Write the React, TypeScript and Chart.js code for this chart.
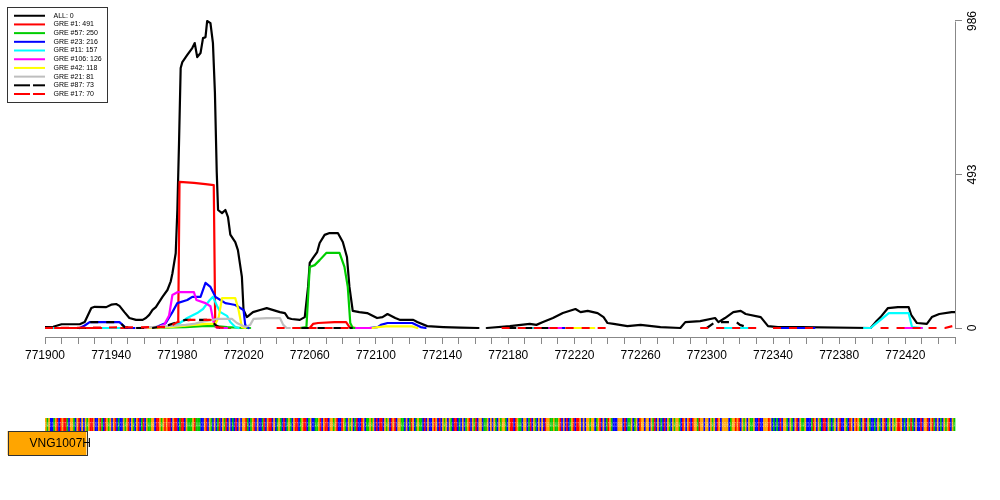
import { useEffect, useRef } from 'react';
import { Chart, registerables } from 'chart.js';

Chart.register(...registerables);

const FONT = '"Liberation Sans", Arial, Helvetica, sans-serif';

// ---- series meta ----
const seriesNames = ['ALL', 'GRE #1', 'GRE #57', 'GRE #23', 'GRE #11', 'GRE #106', 'GRE #42', 'GRE #21', 'GRE #87', 'GRE #17'];
const seriesCounts = [0, 491, 250, 216, 157, 126, 118, 81, 73, 70];
const seriesColors = ['#000000', '#FF0000', '#00CD00', '#0000FF', '#00FFFF', '#FF00FF', '#FFFF00', '#BEBEBE', '#000000', '#FF0000'];
const seriesDashed = [false, false, false, false, false, false, false, false, true, true];

type Pt = [number, number | null];

// ---- series values: [genomic position, reads] ----
const profileAll: Pt[] = [
  [771900, 3], [771905, 4], [771910, 12], [771921, 12], [771924, 19], [771928, 64], [771930, 68], [771937, 67],
  [771940, 75], [771943, 77], [771945, 71], [771948, 51], [771951, 32], [771955, 26], [771959, 26], [771961, 32],
  [771963, 42], [771965, 58], [771967, 67], [771971, 100], [771974, 122], [771976, 150], [771977, 175], [771979, 240],
  [771980, 380], [771981, 594], [771982, 835], [771983, 854], [771986, 877], [771989, 899], [771990.5, 915], [771992, 870],
  [771994, 883], [771995.5, 931], [771997, 934], [771998, 986], [772000, 979], [772001.5, 915], [772002.7, 755], [772003.8, 500],
  [772004.6, 379], [772007, 369], [772009, 379], [772010.6, 356], [772012, 300], [772015, 276], [772016.6, 250], [772019, 164],
  [772020, 58], [772022, 35], [772025.7, 51], [772030, 58], [772034, 64], [772042, 51], [772045, 48], [772047, 32],
  [772049, 29], [772054, 26], [772057, 35], [772059, 132], [772060, 209], [772062, 225], [772064.5, 244], [772066, 273],
  [772069, 299], [772072, 305], [772077, 305], [772080, 276], [772082.5, 228], [772084, 132], [772086, 55], [772090, 51],
  [772094.7, 48], [772100.7, 32], [772104, 35], [772107, 45], [772111.7, 32], [772114.7, 26], [772122.6, 26], [772125, 19],
  [772131, 6], [772140.7, 3], [772151, 1], [772162, 0], [772164, null], [772167, 0], [772181, 6], [772193, 13],
  [772197, 10], [772201, 19], [772207, 32], [772213, 48], [772220.6, 61], [772223.7, 51], [772228, 55], [772234, 48],
  [772237.6, 35], [772240, 16], [772243.7, 13], [772252, 6], [772260, 10], [772272, 3], [772284, 0], [772287, 19],
  [772296, 22], [772305, 32], [772307, 19], [772311, 32], [772316, 51], [772320.5, 55], [772323.5, 45], [772332.6, 35],
  [772337, 6], [772343, 3], [772357, 3], [772399, 0], [772402, 19], [772405, 35], [772409.5, 64], [772415.5, 67],
  [772422, 67], [772423.5, 42], [772427, 16], [772433, 13], [772436, 35], [772440.5, 45], [772448, 51], [772450, 51],
];

const profileGre1: Pt[] = [
  [771900, 0], [771960, 0], [771975, 3], [771980.5, 8], [771981.3, 469], [771990, 466], [771997, 462], [772002, 459],
  [772002.9, 5], [772008, 0], [772012, 0], [772013, null], [772050, 0], [772060, 0], [772062, 13], [772065, 16],
  [772075, 19], [772082, 19], [772084, 3], [772088, 0], [772092, 0], [772093, null],
];

const profileGre57: Pt[] = [
  [771900, 0], [771903, 0], [771904, null], [771960, 0], [771985, 3], [771995, 6], [772003, 6], [772010, 3],
  [772020, 0], [772024, 0], [772025, null], [772054, 0], [772058, 3], [772060, 196], [772063, 202], [772066, 218],
  [772070, 241], [772078, 241], [772081, 196], [772083, 132], [772084.5, 16], [772086, 0], [772090, 0], [772091, null],
];

const profileGre23: Pt[] = [
  [771921, 0], [771924, 8], [771927, 19], [771945, 19], [771949, 0], [771966, 0], [771973, 16], [771977, 51],
  [771980, 80], [771986, 90], [771989, 100], [771994, 100], [771997, 145], [772000, 132], [772003, 100], [772006, 90],
  [772009, 80], [772012, 77], [772015, 74], [772020, 58], [772021, 10], [772023, 0], [772024, null], [772096, 0],
  [772101, 3], [772103, 10], [772107, 16], [772122, 16], [772127, 3], [772130, 0], [772131, null], [772192, 0],
  [772222, 0], [772223, null], [772345, 0], [772365, 0], [772366, null],
];

const profileGre11: Pt[] = [
  [771900, 0], [771905, 0], [771906, null], [771935, 0], [771945, 0], [771946, null], [771970, 0], [771978, 6],
  [771981.5, 16], [771986, 32], [771992, 48], [771995.5, 61], [771999.6, 90], [772001.5, 100], [772004, 71], [772006, 51],
  [772010, 39], [772012, 19], [772015, 3], [772017, 0], [772018, null], [772190, 0], [772205, 0], [772206, null],
  [772308, 0], [772326, 0], [772327, null], [772395, 0], [772399, 0], [772402, 13], [772405, 26], [772410, 48],
  [772422, 48], [772424, 3], [772430, 0], [772431, null],
];

const profileGre106: Pt[] = [
  [771955, 0], [771966, 0], [771972, 10], [771975, 40], [771977, 106], [771980, 115], [771990, 115], [771991.5, 90],
  [771997, 80], [772000, 70], [772002, 16], [772004, 0], [772010, 0], [772011, null], [772088, 0], [772098, 0],
  [772099, null], [772200, 0], [772212, 0], [772213, null], [772418, 0], [772430, 0], [772431, null],
];

const profileGre42: Pt[] = [
  [771962, 0], [771975, 3], [771990, 10], [771998, 13], [772003, 13], [772005, 35], [772007, 96], [772015, 96],
  [772017, 58], [772019, 3], [772021, 0], [772022, null], [772098, 0], [772101, 3], [772106, 5], [772122, 5],
  [772125, 0], [772126, null], [772215, 0], [772232, 0], [772233, null],
];

const profileGre21: Pt[] = [
  [771955, 0], [771965, 3], [771975, 6], [771985, 10], [771990, 13], [771994, 19], [772004, 29], [772013, 29],
  [772016, 16], [772021, 3], [772024, 10], [772026, 29], [772034, 32], [772042, 32], [772044, 10], [772046, 0],
  [772048, 0], [772049, null],
];

const profileGre87: Pt[] = [
  [771900, 0], [771924, 0], [771927, 19], [771945, 19], [771948, 3], [771955, 0], [771965, 0], [771975, 10],
  [771980, 19], [771985, 26], [772000, 26], [772003, 10], [772006, 0], [772010, 0], [772011, null], [772055, 0],
  [772086, 0], [772087, null], [772180, 0], [772205, 0], [772206, null], [772300, 0], [772305, 19], [772318, 19],
  [772320, 10], [772326, 0], [772327, null],
];

const profileGre17: Pt[] = [
  [771900, 0], [771975, 3], [771980, 19], [771988, 26], [772000, 26], [772003, 3], [772010, 0], [772011, null],
  [772040, 0], [772060, 0], [772085, 0], [772086, null], [772176, 0], [772240, 0], [772241, null], [772296, 0],
  [772330, 0], [772331, null], [772340, 0], [772366, 0], [772367, null], [772405, 0], [772444, 0], [772450, 8],
];

const seriesData: Pt[][] = [
  profileAll, profileGre1, profileGre57, profileGre23, profileGre11,
  profileGre106, profileGre42, profileGre21, profileGre87, profileGre17,
];

// ---- axes ----
const xMin = 771900;
const xMax = 772450;
const xTickStep = 10;
const xLabelValues = [771900, 771940, 771980, 772020, 772060, 772100, 772140, 772180, 772220, 772260, 772300, 772340, 772380, 772420];
const yTickValues = [0, 493, 986];
const yMin = -28.9;
const yMax = 1021.3;

// ---- sequence / gene track ----
const seqStart = 771900;
const seqEnd = 772450;
const sequence =
  'GAGCCAGTCTGTTACGGACGTCGCGAGTTGCCGTACTGAGCGTCACCGAG' +
  'TCGACGTCATCGAAGGCTTGAGTGTTCGTTCATTCGAAAGTAAACCGTCG' +
  'ACGCATCGATCGCACTCGCGGTACAGTCGCCATCGTTCGCAGACTCAGAC' +
  'GTTCAGTTCAGCCAAGTCGTTCGGAGTCCTGACGAGCATCCTGCAAGAGC' +
  'TCTTCGAGCTGTCGGAACGCATGCAGAACTCGCCGTGCTCGAGCGACTTC' +
  'ACGCAGTCGATCGGCAAGCGCGACGAGGACGTTCTGAACGGCATCGACGC' +
  'GCTGGAAGAAGTCGCTCAGTCTTGCGCGGAGGCAGTCGCATGACCCGGGC' +
  'TCAAGCAGCTGGCGGCGATCGCACTCGACGAGGACTGCGTCTGGATGGCG' +
  'GCGAGCTGCGGGGCAGGTGTCGAGCGAAGCCTCCGGGTGCACACTCGGAC' +
  'GACGTCGAAGCCCATGCGACTTCGACAGCGTCCGACTGCGTGACGTCGAC' +
  'CACGACGTCAGCGAGTTGCACGATACGCCTCGGTCGTACGCACGAGTCGA';
const baseColors: Record<string, string> = { A: '#00C800', C: '#0000FF', G: '#FFA500', T: '#FF0000' };
const geneName = 'VNG1007H';
const geneStart = 771877.4;
const geneEnd = 771925;

function makeSwatch(color: string, dashed: boolean) {
  const c = document.createElement('canvas');
  c.width = 36;
  c.height = 4;
  const g = c.getContext('2d') as CanvasRenderingContext2D;
  g.strokeStyle = color;
  g.lineWidth = 2;
  if (dashed) g.setLineDash([16, 3]);
  g.beginPath();
  g.moveTo(0, 2);
  g.lineTo(31, 2);
  g.stroke();
  return c;
}

const yAxisLinePlugin = {
  id: 'yAxisLine',
  afterDraw(chart: any) {
    const ys = chart.scales.y;
    const ctx = chart.ctx;
    const x = Math.round(chart.chartArea.right) + 0.5;
    ctx.save();
    ctx.strokeStyle = '#888888';
    ctx.lineWidth = 1;
    ctx.beginPath();
    ctx.moveTo(x, Math.round(ys.getPixelForValue(yTickValues[0])) + 0.5);
    ctx.lineTo(x, Math.round(ys.getPixelForValue(yTickValues[yTickValues.length - 1])) + 0.5);
    ctx.stroke();
    ctx.restore();
  },
};

const legendPlacePlugin = {
  id: 'legendPlace',
  afterLayout(chart: any) {
    const lg = chart.legend;
    if (!lg) return;
    lg.left = 12.3;
    lg.top = 10.5;
    lg.right = 120;
    lg.bottom = 120;
    lg.width = lg.right - lg.left;
    lg.height = lg.bottom - lg.top;
  },
  afterDraw(chart: any) {
    const ctx = chart.ctx;
    ctx.save();
    ctx.strokeStyle = '#333333';
    ctx.lineWidth = 1;
    ctx.strokeRect(7.5, 7.5, 100, 95);
    ctx.restore();
  },
};

const trackPlugin = {
  id: 'tracks',
  afterDraw(chart: any) {
    const xs = chart.scales.x;
    const ctx = chart.ctx;
    const n = sequence.length;
    const step = (seqEnd - seqStart) / n;
    const top = 418;
    const h = 13;
    ctx.save();
    for (let i = 0; i < n; i++) {
      const x0 = xs.getPixelForValue(seqStart + i * step);
      const x1 = xs.getPixelForValue(seqStart + (i + 1) * step);
      ctx.fillStyle = baseColors[sequence[i]] || '#888';
      ctx.fillRect(x0, top, x1 - x0 + 0.35, h);
    }
    ctx.fillStyle = 'rgba(255,255,255,0.6)';
    ctx.font = `bold 8px ${FONT}`;
    ctx.textAlign = 'center';
    ctx.textBaseline = 'middle';
    for (let i = 0; i < n; i++) {
      const x0 = xs.getPixelForValue(seqStart + i * step);
      const x1 = xs.getPixelForValue(seqStart + (i + 1) * step);
      ctx.save();
      ctx.translate((x0 + x1) / 2, top + h / 2);
      ctx.scale(0.18, 1);
      ctx.fillText(sequence[i], 0, 0);
      ctx.restore();
    }
    // gene
    const g0 = xs.getPixelForValue(geneStart);
    const g1 = xs.getPixelForValue(geneEnd);
    ctx.fillStyle = '#FFA500';
    ctx.fillRect(g0, 431, g1 - g0, 24);
    ctx.strokeStyle = '#333333';
    ctx.lineWidth = 1;
    ctx.strokeRect(Math.round(g0) + 0.5, 431.5, Math.round(g1 - g0), 24);
    ctx.fillStyle = '#000000';
    ctx.font = `12px ${FONT}`;
    ctx.textAlign = 'left';
    ctx.textBaseline = 'middle';
    ctx.fillText(geneName, g0 + 22, 444);
    ctx.restore();
  },
};

export default function App() {
  const ref = useRef<HTMLCanvasElement | null>(null);

  useEffect(() => {
    const canvas = ref.current;
    if (!canvas) return;
    const swatches = seriesColors.map((c, i) => makeSwatch(c, seriesDashed[i]));
    const n = seriesNames.length;

    const chart = new Chart(canvas, {
      type: 'line',
      data: {
        datasets: seriesData.map((pts, i) => ({
          label: seriesNames[i],
          data: pts.map(([x, y]) => ({ x, y })),
          borderColor: seriesColors[i],
          backgroundColor: seriesColors[i],
          borderWidth: 2.2,
          borderDash: seriesDashed[i] ? [8, 8] : [],
          borderCapStyle: seriesDashed[i] ? 'butt' : 'round',
          borderJoinStyle: 'round',
          pointRadius: 0,
          pointHoverRadius: 0,
          tension: 0,
          fill: false,
          spanGaps: false,
          order: n - i,
        })) as any,
      },
      options: {
        animation: false,
        responsive: false,
        devicePixelRatio: 1,
        events: [],
        layout: { padding: { left: 45, top: 10, right: 0, bottom: 0 } },
        scales: {
          x: {
            type: 'linear',
            position: 'bottom',
            min: xMin,
            max: xMax,
            afterBuildTicks: (s: any) => {
              const t = [];
              for (let v = xMin; v <= xMax; v += xTickStep) t.push({ value: v });
              s.ticks = t;
            },
            afterFit: (s: any) => {
              s.height = 163;
            },
            ticks: {
              autoSkip: false,
              maxRotation: 0,
              minRotation: 0,
              padding: 4,
              color: '#000000',
              font: { size: 12, family: FONT },
              callback: (v: any) => (xLabelValues.includes(Number(v)) ? String(v) : ''),
            },
            grid: { drawOnChartArea: false, drawTicks: true, tickLength: 7, color: '#888888', lineWidth: 1 },
            border: { display: true, color: '#888888', width: 1 },
          },
          y: {
            type: 'linear',
            position: 'right',
            min: yMin,
            max: yMax,
            afterBuildTicks: (s: any) => {
              s.ticks = yTickValues.map((v) => ({ value: v }));
            },
            afterFit: (s: any) => {
              s.width = 45;
            },
            ticks: {
              minRotation: 90,
              maxRotation: 90,
              crossAlign: 'center',
              padding: 1,
              color: '#000000',
              font: { size: 12, family: FONT },
              callback: (v: any) => String(v),
            },
            grid: { drawOnChartArea: false, drawTicks: true, tickLength: 7, color: '#888888', lineWidth: 1 },
            border: { display: false },
          },
        } as any,
        plugins: {
          tooltip: { enabled: false },
          legend: {
            display: true,
            position: 'chartArea',
            align: 'start',
            labels: {
              usePointStyle: true,
              pointStyleWidth: 36,
              boxHeight: 7,
              padding: 1.7,
              color: '#000000',
              font: { size: 7, family: FONT },
              generateLabels: () =>
                seriesNames.map((name, i) => ({
                  text: `${name}: ${seriesCounts[i]}`,
                  fillStyle: seriesColors[i],
                  strokeStyle: seriesColors[i],
                  fontColor: '#000000',
                  lineWidth: 2,
                  lineDash: [],
                  pointStyle: swatches[i],
                  hidden: false,
                  datasetIndex: i,
                })),
            },
          } as any,
        },
      },
      plugins: [yAxisLinePlugin, legendPlacePlugin, trackPlugin],
    });

    return () => {
      chart.destroy();
    };
  }, []);

  return (
    <div style={{ position: 'absolute', left: 0, top: 0, width: 1000, height: 500 }}>
      <canvas ref={ref} width={1000} height={500} style={{ width: 1000, height: 500, display: 'block' }} />
    </div>
  );
}
